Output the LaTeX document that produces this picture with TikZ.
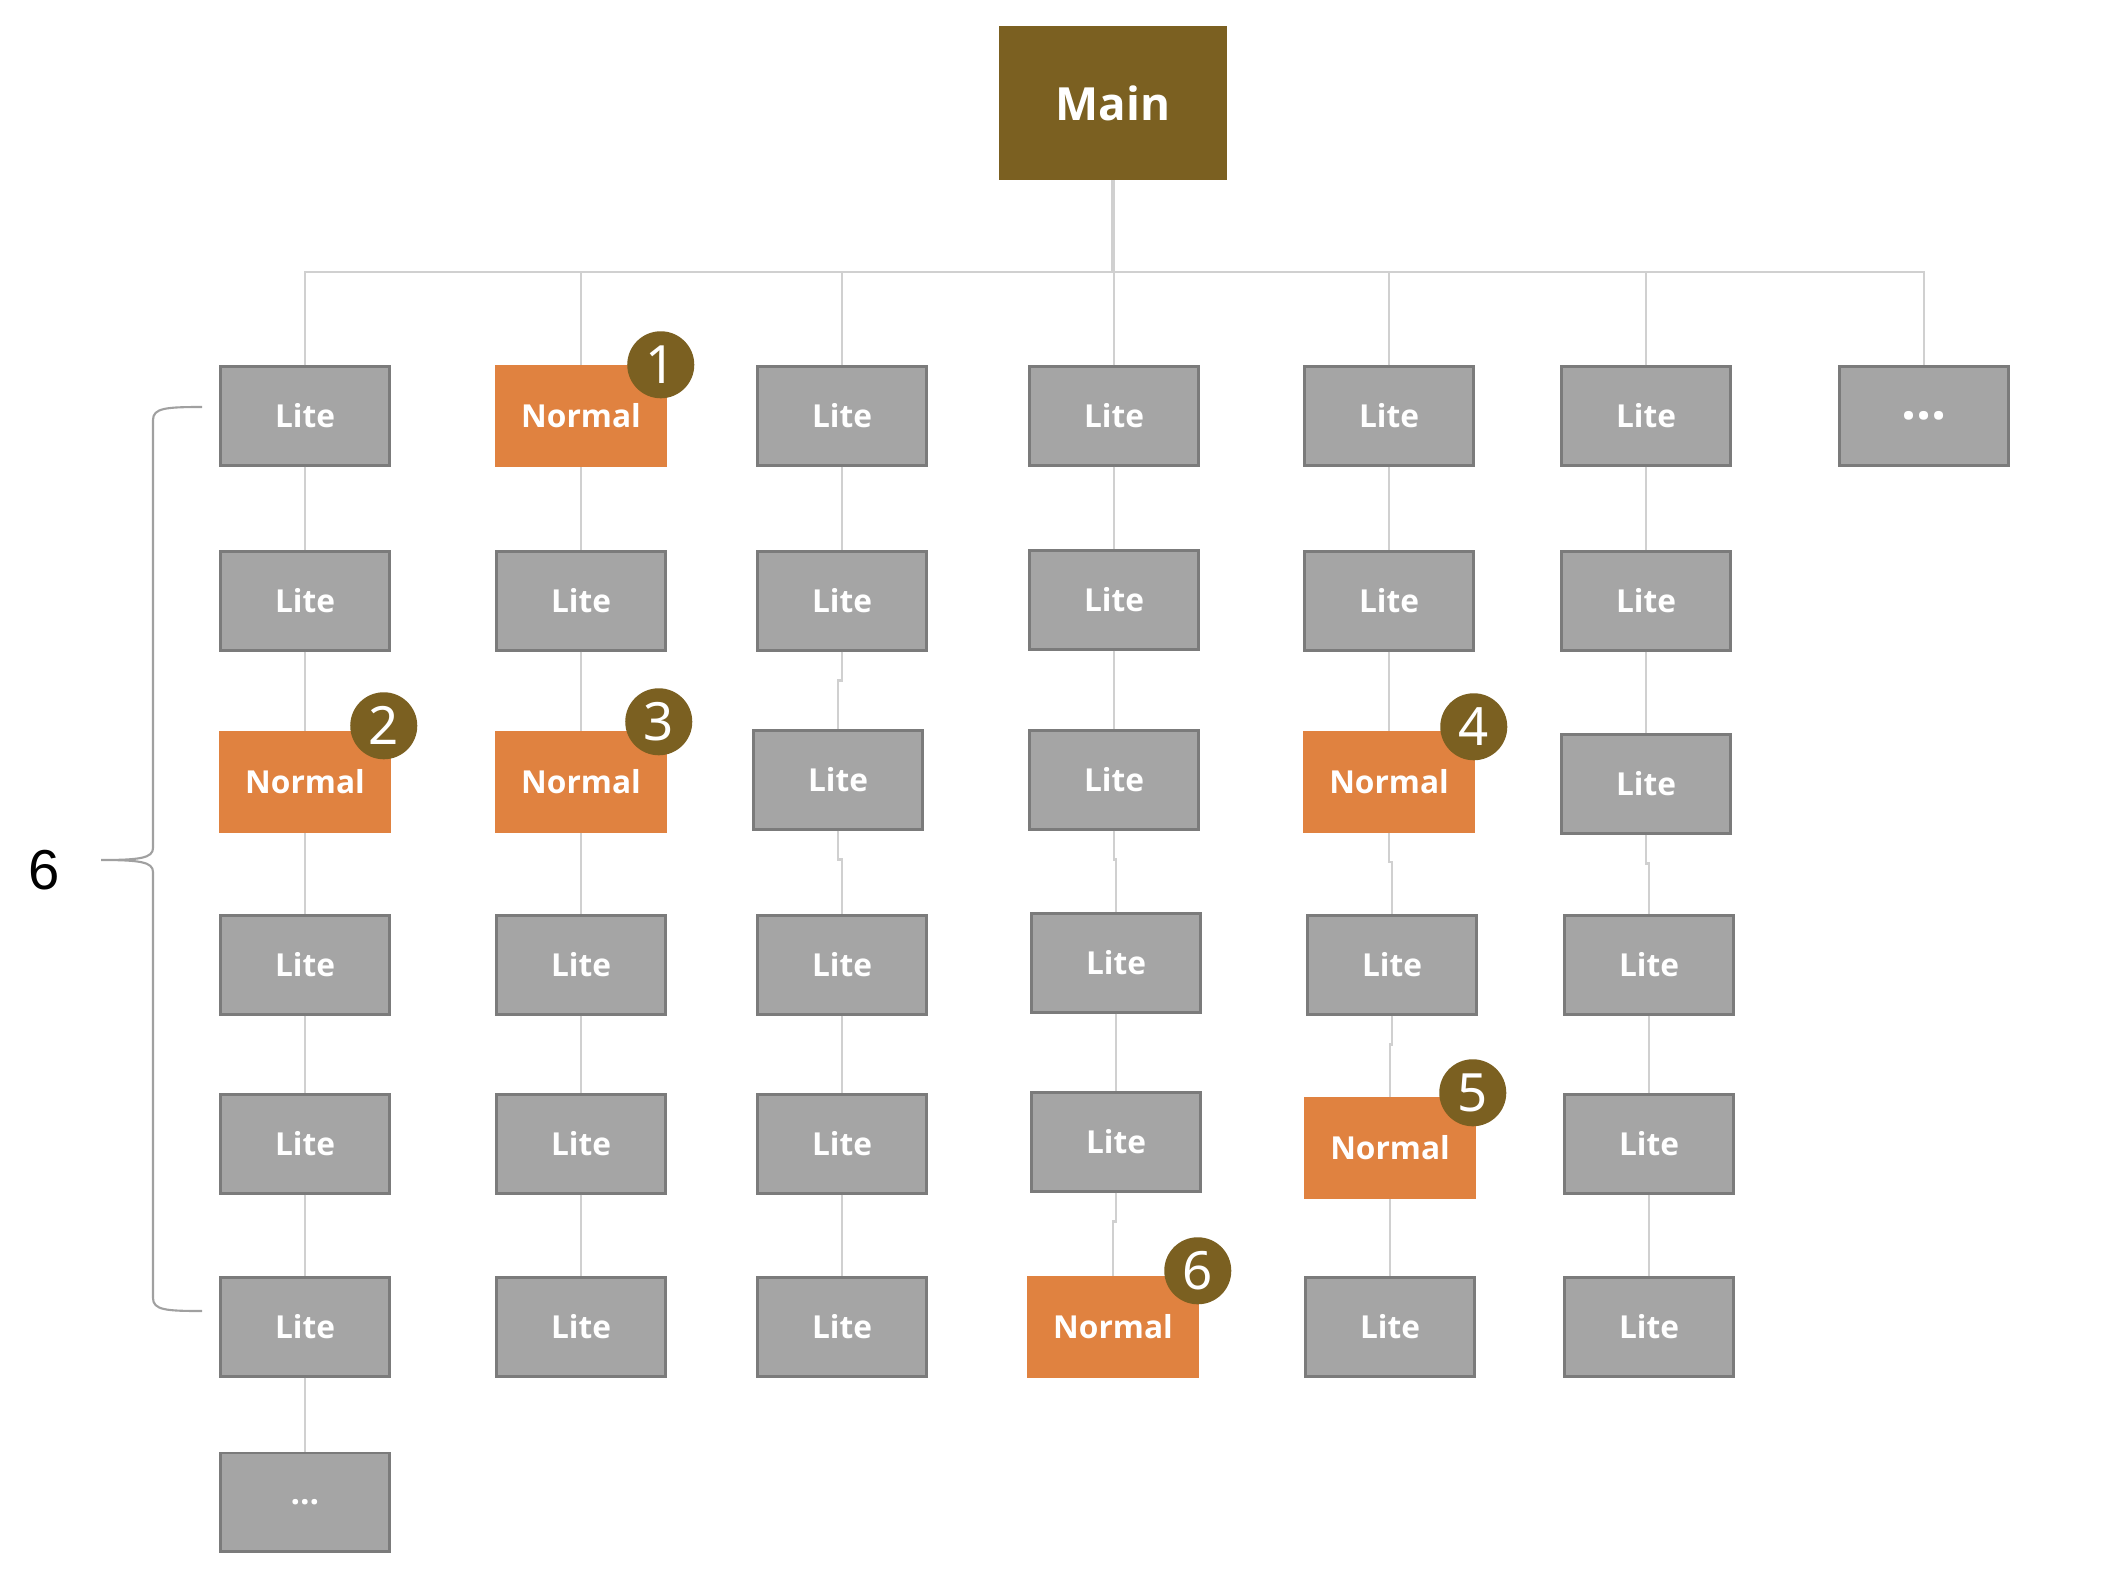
\documentclass[tikz,border=0pt]{standalone}
\usepackage{fontspec}
\setsansfont{Open Sans}
\newfontfamily\bracefont{Liberation Sans}
\newfontfamily\badgefont{Noto Sans}
\definecolor{mainbrown}{RGB}{123,96,33}
\definecolor{normalorange}{RGB}{224,130,64}
\definecolor{litegray}{RGB}{165,165,165}
\definecolor{liteborder}{RGB}{123,123,123}
\definecolor{linkgray}{RGB}{208,208,208}
\definecolor{bracegray}{RGB}{160,160,160}
\tikzset{
  box/.style={minimum width=1.68cm, minimum height=0.98cm, inner sep=0pt, text=white,
    font=\sffamily\bfseries\fontsize{9}{11}\selectfont},
  lite/.style={box, fill=litegray, draw=liteborder, line width=0.85pt},
  normal/.style={box, fill=normalorange, minimum width=1.72cm, minimum height=1.01cm},
  badge/.style={circle, fill=mainbrown, minimum size=0.67cm, inner sep=0pt, text=white,
    font=\badgefont\fontsize{15}{15}\selectfont},
  link/.style={draw=linkgray, line width=0.6pt}
}
\begin{document}
\begin{tikzpicture}[x=0.01cm, y=-0.01cm]
\useasboundingbox (0,0) rectangle (2110,1582);

\node[fill=mainbrown, minimum width=2.27cm, minimum height=1.53cm, inner sep=0pt, text=white,
  font=\sffamily\bfseries\fontsize{13}{15}\selectfont] (main) at (1113,103) {Main};

\node[lite] (c1-1) at (305,416) {Lite};
\node[lite] (c1-2) at (305,601) {Lite};
\node[normal] (c1-3) at (305,782) {Normal};
\node[lite] (c1-4) at (305,965) {Lite};
\node[lite] (c1-5) at (305,1144) {Lite};
\node[lite] (c1-6) at (305,1327) {Lite};
\node[lite, font=\sffamily\bfseries\fontsize{9.5}{11}\selectfont] (c1-7) at (305,1502) {\raisebox{-0.06em}[0pt][0pt]{…}};

\node[normal] (c2-1) at (581,416) {Normal};
\node[lite] (c2-2) at (581,601) {Lite};
\node[normal] (c2-3) at (581,782) {Normal};
\node[lite] (c2-4) at (581,965) {Lite};
\node[lite] (c2-5) at (581,1144) {Lite};
\node[lite] (c2-6) at (581,1327) {Lite};

\node[lite] (c3-1) at (842,416) {Lite};
\node[lite] (c3-2) at (842,601) {Lite};
\node[lite] (c3-3) at (838,780) {Lite};
\node[lite] (c3-4) at (842,965) {Lite};
\node[lite] (c3-5) at (842,1144) {Lite};
\node[lite] (c3-6) at (842,1327) {Lite};

\node[lite] (c4-1) at (1114,416) {Lite};
\node[lite] (c4-2) at (1114,600) {Lite};
\node[lite] (c4-3) at (1114,780) {Lite};
\node[lite] (c4-4) at (1116,963) {Lite};
\node[lite] (c4-5) at (1116,1142) {Lite};
\node[normal] (c4-6) at (1113,1327) {Normal};

\node[lite] (c5-1) at (1389,416) {Lite};
\node[lite] (c5-2) at (1389,601) {Lite};
\node[normal] (c5-3) at (1389,782) {Normal};
\node[lite] (c5-4) at (1392,965) {Lite};
\node[normal] (c5-5) at (1390,1148) {Normal};
\node[lite] (c5-6) at (1390,1327) {Lite};

\node[lite] (c6-1) at (1646,416) {Lite};
\node[lite] (c6-2) at (1646,601) {Lite};
\node[lite] (c6-3) at (1646,784) {Lite};
\node[lite] (c6-4) at (1649,965) {Lite};
\node[lite] (c6-5) at (1649,1144) {Lite};
\node[lite] (c6-6) at (1649,1327) {Lite};

\node[lite, font=\sffamily\bfseries\fontsize{15}{15}\selectfont] (c7-1) at (1924,416) {\raisebox{-0.06em}[0pt][0pt]{…}};

\coordinate (bus) at (1113,272);
\draw[link, line width=1.1pt] (main.south) -- (bus);
\draw[link] (c1-1.north) -- (c1-1.north |- bus) -- (c7-1.north |- bus) -- (c7-1.north);
\foreach \c in {2,...,6}
  \draw[link] (c\c-1.north) -- (c\c-1.north |- bus);
\foreach \c/\last in {1/6,2/5,3/5,4/5,5/5,6/5}
  \foreach \r [count=\s from 2] in {1,...,\last}
    \draw[link] (c\c-\r.south) -- ++(0,29) -| (c\c-\s.north);

\node[badge] (b1) at ([shift={(-7,0)}]c2-1.north east) {1};
\node[badge] (b2) at ([shift={(-8,-5)}]c1-3.north east) {2};
\node[badge] (b3) at ([shift={(-9,-9)}]c2-3.north east) {3};
\node[badge] (b4) at ([shift={(-2,-4)}]c5-3.north east) {4};
\node[badge] (b5) at ([shift={(-4,-4)}]c5-5.north east) {5};
\node[badge] (b6) at ([shift={(-2,-5)}]c4-6.north east) {6};

\draw[bracegray, line width=0.6pt] (202,407) .. controls (166,407) and (153,408) .. (153,420)
  -- (153,848) .. controls (153,858) and (140,860) .. (101,860)
  .. controls (140,860) and (153,862) .. (153,872)
  -- (153,1298) .. controls (153,1310) and (166,1311) .. (202,1311);
\node[font=\bracefont\fontsize{16}{16}\selectfont] (count) at (44,870) {6};
\end{tikzpicture}
\end{document}
